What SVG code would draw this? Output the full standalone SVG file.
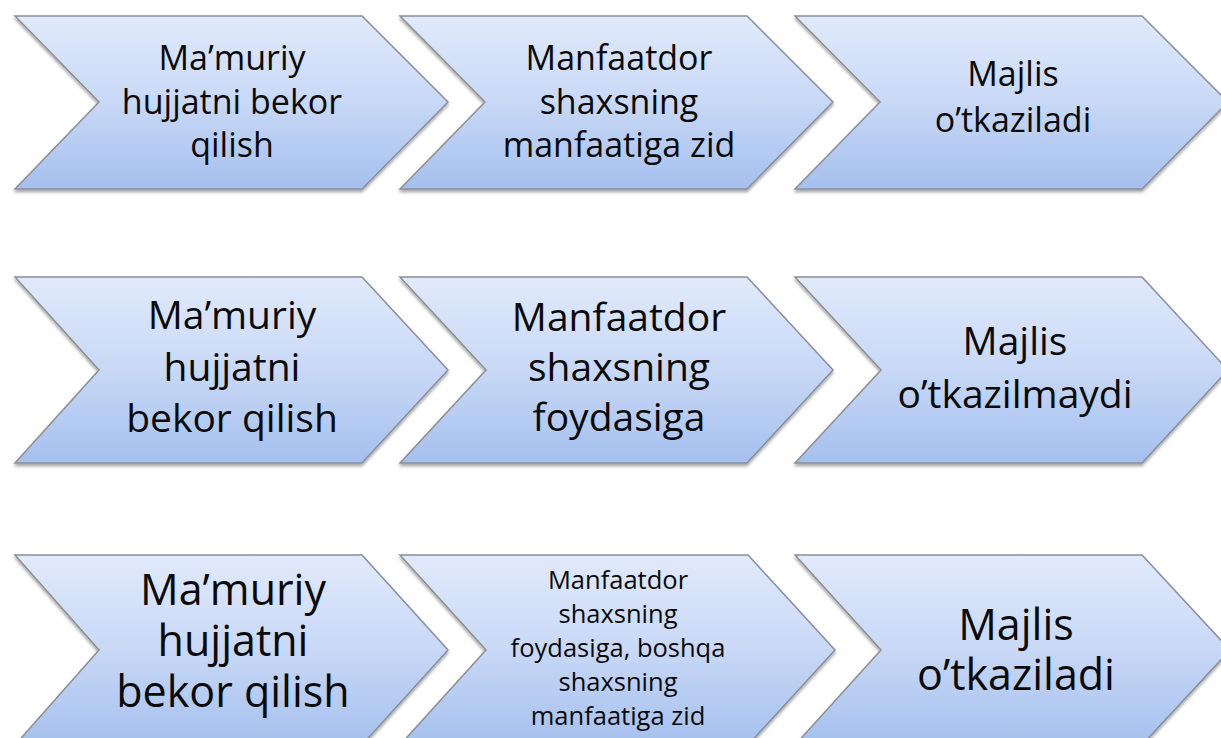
<svg xmlns="http://www.w3.org/2000/svg" width="1221" height="738" viewBox="0 0 1221 738">
<defs>
<linearGradient id="fill" x1="0" y1="0" x2="0" y2="1">
<stop offset="0" stop-color="#e1eafb"/>
<stop offset="0.5" stop-color="#c8d8f6"/>
<stop offset="1" stop-color="#a5c0ee"/>
</linearGradient>
<filter id="sh" x="-5%" y="-5%" width="110%" height="115%">
<feDropShadow dx="0" dy="2.5" stdDeviation="1.8" flood-color="#000" flood-opacity="0.35"/>
</filter>
</defs>
<style>
.chev{fill:url(#fill);stroke:#8a8f98;stroke-width:1.5;filter:url(#sh)}
text{font-family:"Open Sans","DejaVu Sans",sans-serif;fill:#0a0a0a;text-anchor:middle}
.r1{font-size:34px}
.r2{font-size:39px}
.r3{font-size:43px}
.r3s{font-size:25.5px}
</style>
<rect width="1221" height="738" fill="#ffffff"/>
<g id="connectors"></g>
<!-- Row 1 -->
<g id="r1c1">
<polygon class="chev" points="15,16 362,16 448,102 362,189 15,189 99,102"/>
<text class="r1" x="232" y="70">Ma’muriy</text>
<text class="r1" x="232" y="114">hujjatni bekor</text>
<text class="r1" x="232" y="157">qilish</text>
</g>
<g id="r1c2">
<polygon class="chev" points="400,16 747,16 833,102 747,189 400,189 485,102"/>
<text class="r1" x="619" y="70">Manfaatdor</text>
<text class="r1" x="619" y="114">shaxsning</text>
<text class="r1" x="619" y="157">manfaatiga zid</text>
</g>
<g id="r1c3">
<polygon class="chev" points="795,16 1142,16 1228,102 1142,189 795,189 880,102"/>
<text class="r1" x="1013" y="86">Majlis</text>
<text class="r1" x="1013" y="132">o’tkaziladi</text>
</g>
<!-- Row 2 -->
<g id="r2c1">
<polygon class="chev" points="15,277 362,277 448,370 362,463 15,463 99,370"/>
<text class="r2" x="232" y="329">Ma’muriy</text>
<text class="r2" x="232" y="381">hujjatni</text>
<text class="r2" x="232" y="432">bekor qilish</text>
</g>
<g id="r2c2">
<polygon class="chev" points="400,277 747,277 833,370 747,463 400,463 486,370"/>
<text class="r2" x="619" y="331">Manfaatdor</text>
<text class="r2" x="619" y="381">shaxsning</text>
<text class="r2" x="619" y="431">foydasiga</text>
</g>
<g id="r2c3">
<polygon class="chev" points="795,277 1142,277 1228,370 1142,463 795,463 881,370"/>
<text class="r2" x="1015" y="355">Majlis</text>
<text class="r2" x="1015" y="408">o’tkazilmaydi</text>
</g>
<!-- Row 3 -->
<g id="r3c1">
<polygon class="chev" points="15,555 362,555 448,650 362,745 15,745 99,650"/>
<text class="r3" x="233" y="605">Ma’muriy</text>
<text class="r3" x="233" y="656">hujjatni</text>
<text class="r3" x="233" y="707">bekor qilish</text>
</g>
<g id="r3c2">
<polygon class="chev" points="400,555 748,555 835,650 748,745 400,745 486,650"/>
<text class="r3s" x="618" y="589">Manfaatdor</text>
<text class="r3s" x="618" y="623">shaxsning</text>
<text class="r3s" x="618" y="657">foydasiga, boshqa</text>
<text class="r3s" x="618" y="691">shaxsning</text>
<text class="r3s" x="618" y="725">manfaatiga zid</text>
</g>
<g id="r3c3">
<polygon class="chev" points="795,555 1142,555 1230,650 1142,745 795,745 881,650"/>
<text class="r3" x="1016" y="640">Majlis</text>
<text class="r3" x="1016" y="690">o’tkaziladi</text>
</g>
</svg>
